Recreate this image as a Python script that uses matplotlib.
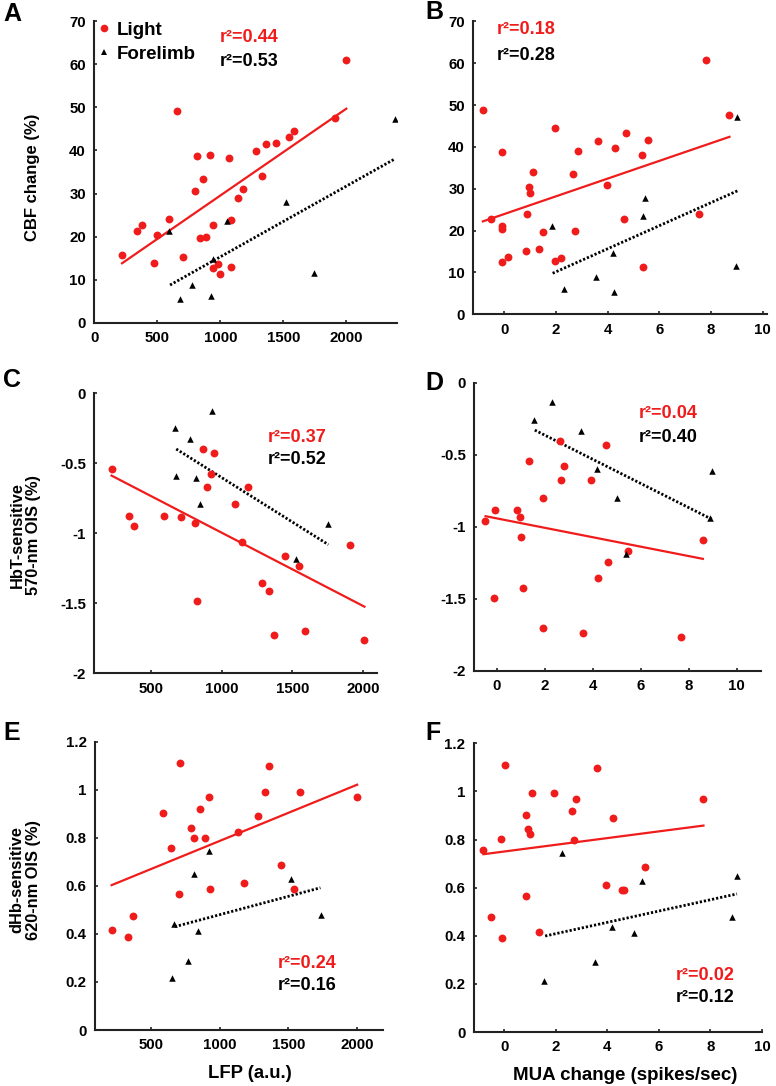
import matplotlib
matplotlib.use("Agg")
import matplotlib.pyplot as plt
from matplotlib.lines import Line2D

plt.rcParams['font.family'] = ['Liberation Sans', 'DejaVu Sans']
plt.rcParams['font.weight'] = 'bold'
plt.rcParams['axes.unicode_minus'] = False

RED = '#f01c1c'

# ---------------- data ----------------
A_light_x = [220, 342, 381, 477, 498, 591, 654, 705, 803, 818, 840, 861, 890, 922, 940, 940, 980, 999,
             1068, 1081, 1083, 1142, 1184, 1285, 1332, 1364, 1446, 1544, 1587, 1907, 2000]
A_light_y = [15.7, 21.2, 22.7, 13.8, 20.4, 24.0, 49.1, 15.3, 30.6, 38.8, 19.7, 33.4, 19.8, 39.0, 22.7, 12.6,
             13.6, 11.3, 38.2, 23.9, 12.9, 29.0, 31.0, 39.8, 34.1, 41.4, 41.7, 43.2, 44.5, 47.5, 61.0]
A_fore_x = [593, 681, 776, 930, 940, 1052, 1523, 1740, 2389]
A_fore_y = [21.4, 5.4, 8.8, 6.3, 14.8, 23.6, 28.0, 11.6, 47.4]
A_fit_light = ([220, 2000], [13.8, 49.7])
A_fit_fore = ([601, 2389], [8.75, 38.1])

B_light_x = [-0.83, -0.52, -0.10, -0.09, -0.09, -0.08, 0.13, 0.85, 0.88, 0.95, 1.01, 1.10, 1.35, 1.51, 1.95,
             1.97, 2.18, 2.74, 2.66, 2.84, 3.64, 3.99, 4.27, 4.63, 4.70, 5.32, 5.35, 5.55, 7.52, 7.81, 8.71]
B_light_y = [48.9, 22.8, 38.8, 21.2, 20.4, 12.6, 13.8, 15.2, 24.0, 30.5, 28.9, 34.1, 15.7, 19.7, 44.4,
             12.8, 13.5, 19.9, 33.4, 38.9, 41.3, 30.9, 39.7, 22.7, 43.2, 38.1, 11.3, 41.6, 23.9, 60.8, 47.5]
B_fore_x = [1.85, 2.31, 3.56, 4.19, 4.25, 5.37, 5.46, 8.97, 8.99]
B_fore_y = [21.2, 6.1, 8.8, 14.7, 5.3, 23.5, 27.9, 11.6, 47.1]
B_fit_light = ([-0.83, 8.71], [22.2, 42.4])
B_fit_fore = ([1.87, 9.02], [9.8, 29.5])

C_light_x = [222, 344, 382, 592, 712, 809, 823, 865, 898, 924, 946, 1092, 1146, 1184, 1285, 1335, 1370,
             1450, 1549, 1589, 1905, 2004]
C_light_y = [-0.538, -0.874, -0.948, -0.876, -0.883, -0.929, -1.483, -0.398, -0.667, -0.574, -0.426, -0.790,
             -1.060, -0.669, -1.352, -1.412, -1.726, -1.160, -1.233, -1.698, -1.081, -1.760]
C_fore_x = [667, 934, 776, 679, 821, 849, 1750, 1528]
C_fore_y = [-0.25, -0.124, -0.329, -0.59, -0.602, -0.793, -0.936, -1.183]
C_fit_light = ([222, 2009], [-0.588, -1.524])
C_fit_fore = ([679, 1754], [-0.398, -1.081])

D_light_x = [-0.50, -0.07, -0.11, 0.86, 0.97, 1.01, 1.09, 1.34, 1.95, 1.95, 2.63, 2.70, 2.81, 3.59, 3.93,
             4.21, 4.57, 4.64, 5.47, 7.70, 8.59]
D_light_y = [-0.956, -0.880, -1.493, -0.884, -0.933, -1.067, -1.421, -0.544, -0.799, -1.704, -0.403, -0.676,
             -0.576, -1.734, -0.676, -1.356, -0.431, -1.243, -1.167, -1.766, -1.088]
D_fore_x = [1.55, 2.30, 3.50, 4.18, 5.03, 5.37, 8.89, 8.99]
D_fore_y = [-0.259, -0.134, -0.336, -0.597, -0.801, -1.190, -0.938, -0.613]
D_fit_light = ([-0.46, 8.59], [-0.926, -1.222])
D_fit_fore = ([1.59, 8.96], [-0.329, -0.947])

E_light_x = [216, 335, 374, 587, 646, 714, 706, 796, 815, 857, 891, 920, 934, 1136, 1177, 1279, 1332, 1362,
             1446, 1544, 1585, 2000]
E_light_y = [0.416, 0.388, 0.476, 0.903, 0.756, 1.110, 0.564, 0.842, 0.800, 0.920, 0.800, 0.969, 0.588,
             0.825, 0.612, 0.892, 0.992, 1.098, 0.687, 0.588, 0.992, 0.971]
E_fore_x = [658, 670, 769, 813, 845, 925, 1522, 1740]
E_fore_y = [0.215, 0.440, 0.288, 0.650, 0.412, 0.745, 0.627, 0.478]
E_fit_light = ([216, 2000], [0.603, 1.021])
E_fit_fore = ([675, 1733], [0.430, 0.592])

F_light_x = [-0.83, -0.50, -0.12, -0.09, 0.04, 0.84, 0.83, 0.93, 0.99, 1.09, 1.34, 1.93, 2.62, 2.71, 2.80,
             3.60, 3.94, 4.22, 4.59, 4.65, 5.48, 7.70]
F_light_y = [0.755, 0.477, 0.801, 0.389, 1.110, 0.902, 0.567, 0.843, 0.823, 0.992, 0.417, 0.992, 0.920,
             0.800, 0.969, 1.098, 0.613, 0.890, 0.589, 0.589, 0.687, 0.970]
F_fore_x = [1.56, 2.26, 3.51, 4.19, 5.04, 5.36, 8.84, 9.02]
F_fore_y = [0.213, 0.744, 0.290, 0.438, 0.410, 0.626, 0.477, 0.649]
F_fit_light = ([-0.80, 7.73], [0.739, 0.858])
F_fit_fore = ([1.59, 9.03], [0.399, 0.574])

r2_light = ['0.44', '0.18', '0.37', '0.04', '0.24', '0.02']
r2_fore = ['0.53', '0.28', '0.52', '0.40', '0.16', '0.12']
panel_letters = ['A', 'B', 'C', 'D', 'E', 'F']

# ---------------- layout ----------------
W, H = 776, 1086
fig = plt.figure(figsize=(W / 100, H / 100), dpi=100)


def add_ax(left, bottom, right, top):
    return fig.add_axes([left / W, (H - bottom) / H, (right - left) / W, (bottom - top) / H])


def ftext(x, y, s, **kw):
    fig.text(x / W, 1 - y / H, s, **kw)


boxes = [
    (94.3, 322.7, 396.7, 21.3),
    (473.3, 314.3, 766.7, 21.3),
    (94.3, 673.3, 377.3, 393.3),
    (474.3, 671.0, 760.7, 382.7),
    (95.0, 1030.0, 383.3, 741.7),
    (473.7, 1032.0, 762.0, 743.3),
]
xlims = [(0, 2400), (-1.2, 10.15), (100, 2100), (-0.93, 11.0), (95, 2190), (-1.18, 10.0)]
ylims = [(0, 70), (0, 70), (-2, 0), (-2, 0), (0, 1.2), (0, 1.2)]
xticks_list = [[0, 500, 1000, 1500, 2000], [0, 2, 4, 6, 8, 10], [500, 1000, 1500, 2000],
               [0, 2, 4, 6, 8, 10], [500, 1000, 1500, 2000], [0, 2, 4, 6, 8, 10]]
yticks_list = [list(range(0, 71, 10)), list(range(0, 71, 10)), [-2, -1.5, -1, -0.5, 0],
               [-2, -1.5, -1, -0.5, 0], [0, 0.2, 0.4, 0.6, 0.8, 1, 1.2], [0, 0.2, 0.4, 0.6, 0.8, 1, 1.2]]

data = [
    (A_light_x, A_light_y, A_fore_x, A_fore_y, A_fit_light, A_fit_fore),
    (B_light_x, B_light_y, B_fore_x, B_fore_y, B_fit_light, B_fit_fore),
    (C_light_x, C_light_y, C_fore_x, C_fore_y, C_fit_light, C_fit_fore),
    (D_light_x, D_light_y, D_fore_x, D_fore_y, D_fit_light, D_fit_fore),
    (E_light_x, E_light_y, E_fore_x, E_fore_y, E_fit_light, E_fit_fore),
    (F_light_x, F_light_y, F_fore_x, F_fore_y, F_fit_light, F_fit_fore),
]

axes = []
for i, box in enumerate(boxes):
    ax = add_ax(*box)
    lx, ly, fx, fy, fl, ff = data[i]
    ax.plot(fl[0], fl[1], color=RED, lw=1.6, zorder=2)
    ax.plot(ff[0], ff[1], color='black', lw=2.0, ls=(0, (0.8, 0.7)), zorder=2)
    ax.scatter(lx, ly, s=32, color=RED, marker='o', linewidths=0, zorder=3)
    ax.scatter(fx, fy, s=22, color='black', marker='^', linewidths=0, zorder=4)
    ax.set_xlim(*xlims[i])
    ax.set_ylim(*ylims[i])
    ax.set_xticks(xticks_list[i])
    ax.set_yticks(yticks_list[i])
    ax.set_xticklabels(['{:g}'.format(v) for v in xticks_list[i]])
    ax.set_yticklabels(['{:g}'.format(v) for v in yticks_list[i]])
    for sp in ['top', 'right']:
        ax.spines[sp].set_visible(False)
    for sp in ['left', 'bottom']:
        ax.spines[sp].set_linewidth(1.5)
        ax.spines[sp].set_color('#222222')
    ax.tick_params(direction='in', length=2.5, width=1.2, color='#222222',
                   labelsize=10.8, pad=6)
    for lab in ax.get_xticklabels() + ax.get_yticklabels():
        lab.set_fontweight('bold')
    ax.patch.set_alpha(0)
    axes.append(ax)

# legend in panel A
handles = [Line2D([], [], marker='o', ls='', color=RED, markersize=5.5, markeredgewidth=0),
           Line2D([], [], marker='^', ls='', color='black', markersize=4.8, markeredgewidth=0)]
axes[0].legend(handles, ['Light', 'Forelimb'], loc='upper left', bbox_to_anchor=(96 / W, 1 - 20 / H),
               bbox_transform=fig.transFigure, frameon=False, handlelength=0.6, handletextpad=0.4,
               labelspacing=0.35, borderaxespad=0, borderpad=0.1,
               prop={'size': 13.5, 'weight': 'bold'})

# r^2 annotations (pixel positions)
r2_pos = [(220, 38, 62), (497, 30, 55), (268, 437, 460), (639, 413, 437), (278, 963, 986), (676, 975, 998)]
for i, (x, y1, y2) in enumerate(r2_pos):
    ftext(x, y1, 'r\u00b2=' + r2_light[i], color=RED, fontsize=13, fontweight='bold', va='center', ha='left')
    ftext(x, y2, 'r\u00b2=' + r2_fore[i], color='black', fontsize=13, fontweight='bold', va='center', ha='left')

# panel letters
letter_pos = [(3, 14), (425, 12), (3, 380), (425, 383), (3, 733), (425, 733)]
for s, (x, y) in zip(panel_letters, letter_pos):
    ftext(x, y, s, fontsize=18, fontweight='bold', va='center', ha='left')

# axis labels
ftext(33, 177, 'CBF change (%)', rotation=90, fontsize=12, fontweight='bold', va='center', ha='center')
ftext(25, 535, 'HbT-sensitive\n570-nm OIS (%)', rotation=90, fontsize=11.8, fontweight='bold',
      va='center', ha='center', linespacing=1.1)
ftext(25, 880, 'dHb-sensitive\n620-nm OIS (%)', rotation=90, fontsize=11.8, fontweight='bold',
      va='center', ha='center', linespacing=1.1)
ftext(250, 1073, 'LFP (a.u.)', fontsize=13.3, fontweight='bold', va='center', ha='center')
ftext(625, 1075, 'MUA change (spikes/sec)', fontsize=13.5, fontweight='bold', va='center', ha='center')

fig.savefig('out.png', dpi=100, facecolor='white')
